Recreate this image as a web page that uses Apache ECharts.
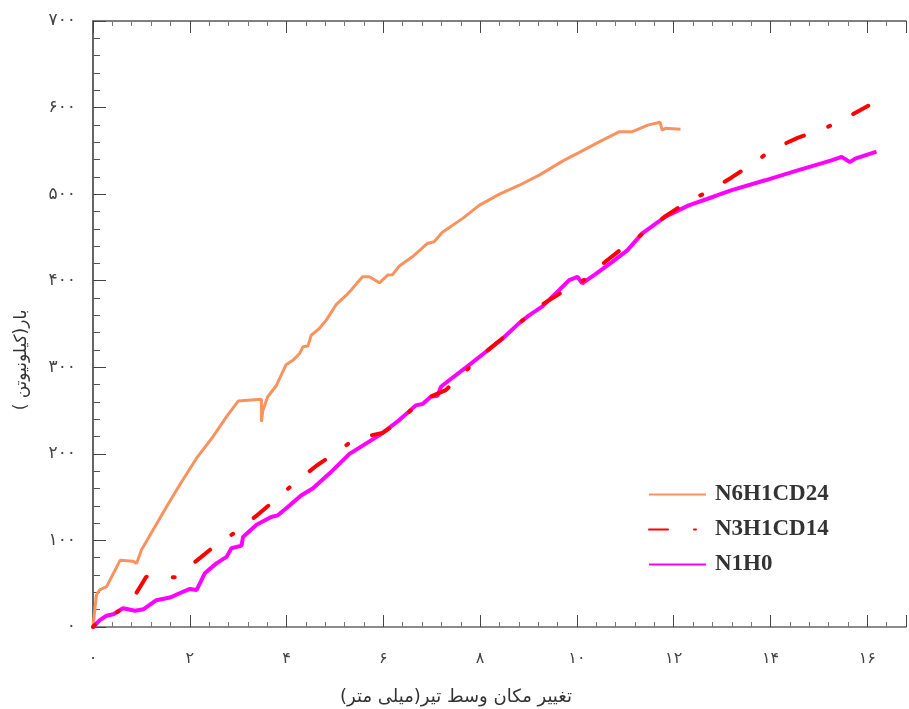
<!DOCTYPE html>
<html>
<head>
<meta charset="utf-8">
<script src="https://cdn.jsdelivr.net/npm/echarts@6/dist/echarts.min.js"></script>
<style>
  html, body { margin: 0; padding: 0; background: #fff; }
  #chart { width: 909px; height: 709px; }
</style>
</head>
<body>
<div id="chart"></div>
<script>
// [x (mm), y (kN)]
const n6h1cd24 = [
  [0, 0], [0.07, 37], [0.14, 43], [0.28, 46.5], [0.56, 77], [0.83, 76], [0.9, 73.5], [0.93, 78],
  [1.0, 89], [1.1, 98.5], [1.24, 112], [1.52, 139], [1.79, 164], [2.14, 195], [2.48, 220],
  [2.76, 243], [3.0, 261], [3.48, 263], [3.48, 237], [3.51, 250], [3.61, 266], [3.79, 279],
  [3.99, 303], [4.13, 308], [4.27, 316], [4.34, 323.7], [4.44, 324.5], [4.51, 337], [4.68, 345],
  [4.82, 354.5], [5.02, 372], [5.23, 383], [5.33, 389], [5.57, 404.5], [5.71, 404.5], [5.92, 397.6],
  [6.09, 406.5], [6.19, 407], [6.33, 417], [6.6, 427.6], [6.91, 443], [7.05, 445], [7.22, 456],
  [7.64, 472], [7.98, 487], [8.4, 500], [8.8, 510], [9.22, 522], [9.73, 539], [10.04, 548],
  [10.45, 560], [10.87, 572], [11.13, 572], [11.48, 580], [11.72, 583], [11.76, 574], [11.83, 576],
  [12.14, 575]
];
const n3h1cd14 = [
  [0, 0], [0.08, 4.6], [0.25, 8], [0.62, 21.6], [0.9, 39.6], [1.1, 58], [1.7, 57.4], [2.15, 77],
  [2.48, 92], [2.93, 109], [3.39, 129], [3.72, 144.7], [4.16, 166], [4.61, 186], [4.89, 196.6],
  [5.44, 218], [5.98, 224], [6.37, 239], [6.76, 261], [7.29, 273.7], [7.6, 290], [8.01, 313],
  [8.45, 333], [8.79, 350], [9.23, 370.7], [9.73, 388], [10.1, 398.7], [10.56, 420.7], [11.0, 440],
  [11.37, 454.6], [11.83, 474.6], [12.3, 492], [12.71, 502.7], [13.19, 519], [13.68, 537],
  [14.04, 551.6], [14.56, 565], [15.11, 575.8], [15.52, 586.6], [16.02, 602]
];
const n1h0 = [
  [0, 0], [0.14, 8], [0.28, 13], [0.42, 14.7], [0.62, 21.6], [0.87, 18.8], [1.04, 20.4], [1.31, 31],
  [1.59, 34], [1.79, 39], [2.0, 44], [2.14, 42.7], [2.31, 62], [2.55, 73.5], [2.76, 81], [2.86, 91],
  [3.07, 94], [3.1, 104], [3.38, 118], [3.68, 127], [3.82, 129], [4.03, 139], [4.3, 152], [4.54, 160],
  [4.89, 177.5], [5.3, 200], [5.92, 221.7], [6.33, 239], [6.67, 256], [6.81, 257.5], [6.98, 266],
  [7.12, 267], [7.19, 277.5], [7.36, 285], [7.77, 302.5], [8.12, 318], [8.46, 333], [8.8, 350.7],
  [9.01, 360], [9.28, 370], [9.63, 389], [9.84, 400.7], [10.01, 404.5], [10.11, 397], [10.39, 408],
  [10.73, 421.8], [11.04, 435], [11.35, 454.6], [11.83, 474], [12.31, 487], [12.82, 497],
  [13.2, 504.6], [13.89, 516], [14.58, 527.7], [15.26, 539], [15.47, 543], [15.64, 537],
  [15.75, 541], [16.19, 549]
];
const seriesNames = ['N6H1CD24', 'N3H1CD14', 'N1H0'];
const persianDigits = ['۰', '۱', '۲', '۳', '۴', '۵', '۶', '۷', '۸', '۹'];
const xTitle = 'تغییر مکان وسط تیر(میلی متر)';
const yTitle = 'بار(کیلونیوتن )';

function toPersian(v) {
  return String(v).replace(/[0-9]/g, d => persianDigits[+d]);
}

const chart = echarts.init(document.getElementById('chart'));
const axisColor = '#444';
const faFont = 'DejaVu Sans';

const xBase = {
  type: 'value',
  min: 0,
  max: 16.8,
  interval: 2,
  splitLine: { show: false },
  axisLine: { onZero: false, lineStyle: { color: '#666', width: 1.5 } },
  axisTick: { inside: true, length: 12, lineStyle: { color: axisColor } },
  minorTick: { show: true, splitNumber: 5, length: 5, lineStyle: { color: '#777' } }
};

chart.setOption({
  animation: false,
  backgroundColor: '#fff',
  grid: { left: 93, right: 1, top: 21, bottom: 82 },
  legend: {
    data: seriesNames,
    orient: 'vertical',
    left: 643,
    top: 478,
    itemWidth: 57,
    itemHeight: 14,
    itemGap: 12,
    itemStyle: { opacity: 0 },
    lineStyle: { dashOffset: 0 },
    textStyle: {
      fontFamily: 'Liberation Serif',
      fontWeight: 'bold',
      fontSize: 23,
      color: '#333',
      padding: [0, 0, 0, 4]
    }
  },
  xAxis: [
    Object.assign({}, xBase, {
      position: 'bottom',
      axisLabel: {
        margin: 24,
        fontFamily: faFont,
        fontSize: 16,
        color: '#444',
        formatter: v => (v % 2 === 0 ? toPersian(v) : '')
      }
    }),
    Object.assign({}, xBase, {
      position: 'top',
      axisLine: { onZero: false, lineStyle: { color: '#555', width: 1.5 } },
      axisLabel: { show: false }
    })
  ],
  yAxis: {
    type: 'value',
    min: 0,
    max: 700,
    interval: 100,
    splitLine: { show: false },
    axisLine: { show: true, onZero: false, lineStyle: { color: '#333', width: 1.5 } },
    axisTick: { show: true, inside: true, length: 13, lineStyle: { color: axisColor } },
    minorTick: { show: true, splitNumber: 5, length: 7, lineStyle: { color: '#555' } },
    axisLabel: {
      margin: 17,
      fontFamily: faFont,
      fontSize: 17,
      color: '#444',
      formatter: v => toPersian(v)
    }
  },
  graphic: [
    {
      type: 'text',
      x: 456,
      y: 697,
      style: {
        text: xTitle,
        font: '18px "DejaVu Sans"',
        fill: '#333',
        textAlign: 'center',
        textVerticalAlign: 'middle'
      }
    },
    {
      type: 'text',
      x: 22,
      y: 360,
      rotation: Math.PI / 2,
      style: {
        text: yTitle,
        font: '17px "DejaVu Sans"',
        fill: '#333',
        textAlign: 'center',
        textVerticalAlign: 'middle'
      }
    }
  ],
  series: [
    {
      name: 'N6H1CD24',
      type: 'line',
      data: n6h1cd24,
      showSymbol: false,
      symbol: 'none',
      color: '#FA9260',
      lineStyle: { width: 3 },
      z: 2
    },
    {
      name: 'N1H0',
      type: 'line',
      data: n1h0,
      showSymbol: false,
      symbol: 'none',
      color: '#FF00FF',
      lineStyle: { width: 4 },
      z: 3
    },
    {
      name: 'N3H1CD14',
      type: 'line',
      data: n3h1cd14,
      showSymbol: false,
      symbol: 'none',
      color: '#FF0000',
      lineStyle: { width: 4, type: [19, 26, 2, 26], dashOffset: 16.5, cap: 'round' },
      z: 4
    }
  ]
});
</script>
</body>
</html>
